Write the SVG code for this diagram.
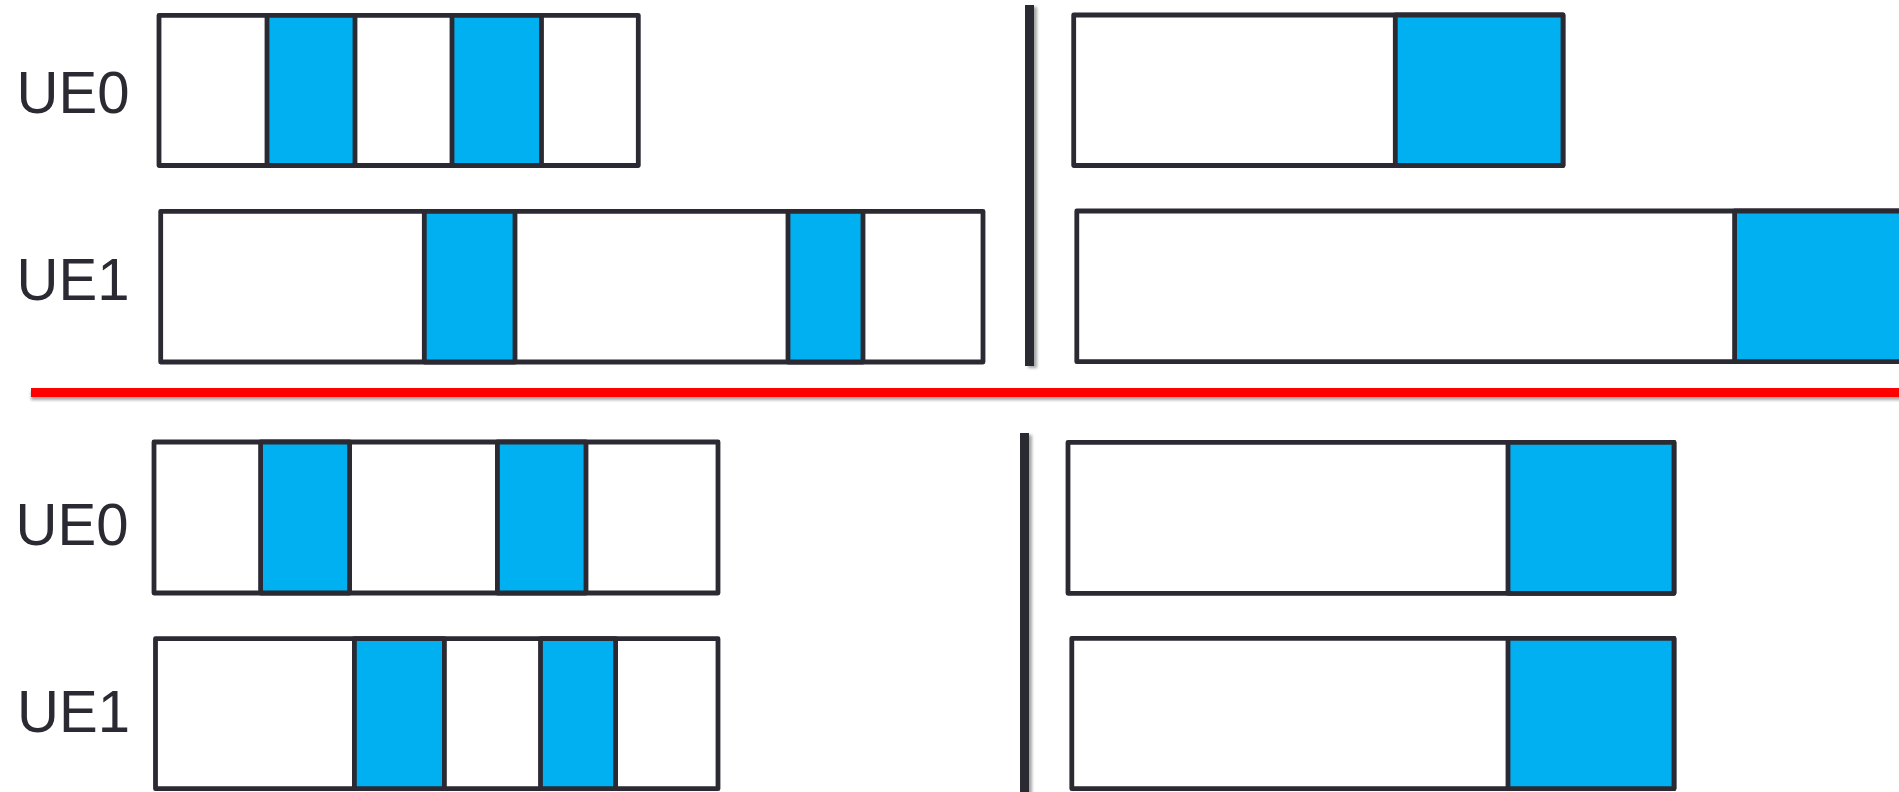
<svg xmlns="http://www.w3.org/2000/svg" width="1899" height="792" viewBox="0 0 1899 792">
<defs>
<style>
.box{fill:#FFFFFF;stroke:#2B2A33;stroke-width:4.8;stroke-linejoin:round}
.cell{fill:#00B0F0;stroke:#2B2A33;stroke-width:4.8;stroke-linejoin:round}
.lbl{font-family:"Liberation Sans",Arial,sans-serif;font-size:60px;fill:#2B2A33}
.div{fill:#2B2A33}
</style>
<filter id="sh" x="-100%" y="-5%" width="300%" height="110%">
<feDropShadow dx="3" dy="2" stdDeviation="1.5" flood-color="#000000" flood-opacity="0.35"/>
</filter>
<filter id="shr" x="-1%" y="-100%" width="102%" height="300%">
<feDropShadow dx="0" dy="3" stdDeviation="1.5" flood-color="#000000" flood-opacity="0.35"/>
</filter>
</defs>
<rect width="1899" height="792" fill="#FFFFFF"/>

<g id="separators">
<rect x="31" y="388" width="1880" height="9" fill="#FF0000" filter="url(#shr)"/>
<rect class="div" x="1025" y="5" width="9" height="361" filter="url(#sh)"/>
<rect class="div" x="1020" y="433" width="9" height="370" filter="url(#sh)"/>
</g>

<g id="top-ue0-left">
<rect class="box" x="159" y="15.3" width="479.3" height="150.2"/>
<rect class="cell" x="267" y="15.3" width="88" height="150.2"/>
<rect class="cell" x="452" y="15.3" width="89.5" height="150.2"/>
</g>
<g id="top-ue1-left">
<rect class="box" x="160.7" y="211.3" width="822.3" height="150.7"/>
<rect class="cell" x="424.3" y="211.3" width="90.7" height="150.7"/>
<rect class="cell" x="788" y="211.3" width="75" height="150.7"/>
</g>
<g id="top-ue0-right">
<rect class="box" x="1073.7" y="15" width="489.3" height="150.5"/>
<rect class="cell" x="1395.3" y="15" width="167.7" height="150.5"/>
</g>
<g id="top-ue1-right">
<rect class="box" x="1076.8" y="211" width="840" height="150.7"/>
<rect class="cell" x="1734.6" y="211" width="182" height="150.7"/>
</g>

<g id="bottom-ue0-left">
<rect class="box" x="154" y="442" width="564" height="151"/>
<rect class="cell" x="260.6" y="442" width="89" height="151"/>
<rect class="cell" x="497.4" y="442" width="88.6" height="151"/>
</g>
<g id="bottom-ue1-left">
<rect class="box" x="155.5" y="638.7" width="562.5" height="150"/>
<rect class="cell" x="354.4" y="638.7" width="90" height="150"/>
<rect class="cell" x="540.5" y="638.7" width="75.1" height="150"/>
</g>
<g id="bottom-ue0-right">
<rect class="box" x="1068" y="442.3" width="606" height="151"/>
<rect class="cell" x="1508" y="442.3" width="166" height="151"/>
</g>
<g id="bottom-ue1-right">
<rect class="box" x="1071.8" y="638.3" width="602.2" height="150.4"/>
<rect class="cell" x="1508" y="638.3" width="166" height="150.4"/>
</g>

<g id="labels">
<text class="lbl" x="16.5" y="113.3" textLength="113" lengthAdjust="spacingAndGlyphs">UE0</text>
<text class="lbl" x="16.5" y="300" textLength="113" lengthAdjust="spacingAndGlyphs">UE1</text>
<text class="lbl" x="15.5" y="545" textLength="113" lengthAdjust="spacingAndGlyphs">UE0</text>
<text class="lbl" x="17" y="731.7" textLength="113" lengthAdjust="spacingAndGlyphs">UE1</text>
</g>
</svg>
